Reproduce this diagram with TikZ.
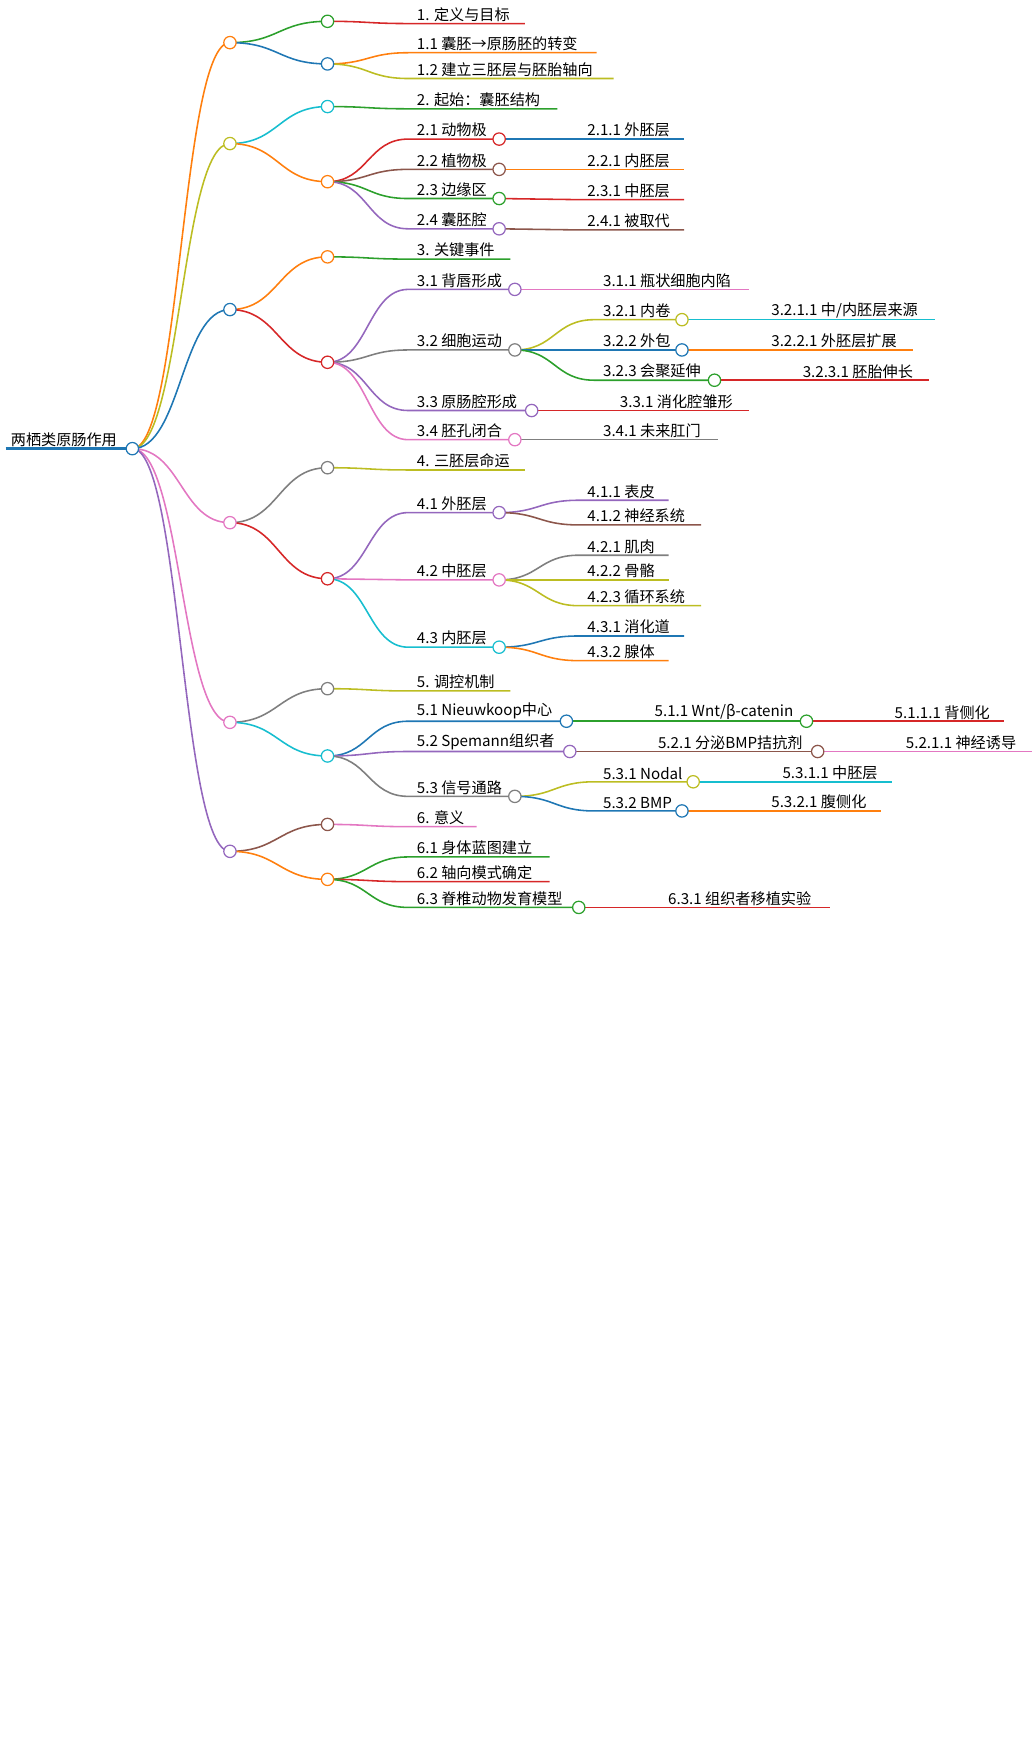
\documentclass[tikz,border=0pt]{standalone}
\usepackage{fontspec}
\setmainfont{Noto Sans CJK SC}
\definecolor{cO}{HTML}{FF7F0E}\definecolor{cY}{HTML}{BCBD22}\definecolor{cB}{HTML}{1F77B4}
\definecolor{cP}{HTML}{E377C2}\definecolor{cV}{HTML}{9467BD}\definecolor{cG}{HTML}{2CA02C}
\definecolor{cR}{HTML}{D62728}\definecolor{cN}{HTML}{8C564B}\definecolor{cA}{HTML}{7F7F7F}
\definecolor{cC}{HTML}{17BECF}
\tikzset{lbl/.style={anchor=south west,inner sep=1.5pt,font=\fontsize{13.5}{14}\selectfont},
 ln/.style={line width=1.4pt},
 dot/.style={circle,draw,fill=white,line width=1.1pt,minimum size=11pt,inner sep=0pt}}
\newcommand\brL[7]{\draw[ln,#1] (#2,#3) .. controls ({(#2+#4-8)/2},#3) and ({(#2+#4-8)/2},#5) .. ({#4-8},#5) -- (#6,#5);
 \node[lbl] at ({#4-2},#5) {#7};}
\newcommand\blk[5]{\draw[ln,#1] (#2,#3) .. controls ({(#2+#4)/2},#3) and ({(#2+#4)/2},#5) .. (#4,#5);}
\newcommand\cir[3]{\node[dot,draw=#1] at (#2,#3) {};}
\begin{document}
\begin{tikzpicture}[x=1pt,y=-1pt]
\useasboundingbox (0,0) rectangle (920,1562);
% root
\draw[cB,line width=3pt] (5,400) -- (118,400);
\node[lbl] at (8,400) {两栖类原肠作用};
% level 1
\blk{cO}{118}{400}{205}{38}\blk{cY}{118}{400}{205}{128}\blk{cB}{118}{400}{205}{276}
\blk{cP}{118}{400}{205}{466}\blk{cP}{118}{400}{205}{644}\blk{cV}{118}{400}{205}{759}
% level 2
\blk{cG}{205}{38}{292}{19}\blk{cB}{205}{38}{292}{57}
\blk{cC}{205}{128}{292}{95}\blk{cO}{205}{128}{292}{162}
\blk{cO}{205}{276}{292}{229}\blk{cR}{205}{276}{292}{323}
\blk{cA}{205}{466}{292}{417}\blk{cR}{205}{466}{292}{516}
\blk{cA}{205}{644}{292}{614}\blk{cC}{205}{644}{292}{674}
\blk{cN}{205}{759}{292}{735}\blk{cO}{205}{759}{292}{784}
% 1
\brL{cR}{292}{19}{372}{21}{468}{1. 定义与目标}
\brL{cO}{292}{57}{372}{47}{532}{1.1 囊胚→原肠胚的转变}
\brL{cY}{292}{57}{372}{70}{547}{1.2 建立三胚层与胚胎轴向}
% 2
\brL{cG}{292}{95}{372}{97}{497}{2. 起始：囊胚结构}
\brL{cR}{292}{162}{372}{124}{445}{2.1 动物极}
\brL{cN}{292}{162}{372}{151}{445}{2.2 植物极}
\brL{cG}{292}{162}{372}{177}{445}{2.3 边缘区}
\brL{cV}{292}{162}{372}{204}{445}{2.4 囊胚腔}
\brL{cB}{445}{124}{524}{124}{610}{2.1.1 外胚层}
\brL{cO}{445}{151}{524}{151}{610}{2.2.1 内胚层}
\brL{cR}{445}{177}{524}{178}{610}{2.3.1 中胚层}
\brL{cN}{445}{204}{524}{205}{610}{2.4.1 被取代}
% 3
\brL{cG}{292}{229}{372}{231}{455}{3. 关键事件}
\brL{cV}{292}{323}{372}{258}{459}{3.1 背唇形成}
\brL{cA}{292}{323}{372}{312}{459}{3.2 细胞运动}
\brL{cV}{292}{323}{372}{366}{474}{3.3 原肠腔形成}
\brL{cP}{292}{323}{372}{392}{459}{3.4 胚孔闭合}
\brL{cP}{459}{258}{538}{258}{668}{3.1.1 瓶状细胞内陷}
\brL{cY}{459}{312}{538}{285}{608}{3.2.1 内卷}
\brL{cB}{459}{312}{538}{312}{608}{3.2.2 外包}
\brL{cG}{459}{312}{538}{339}{637}{3.2.3 会聚延伸}
\brL{cC}{608}{285}{688}{285}{834}{3.2.1.1 中/内胚层来源}
\brL{cO}{608}{312}{688}{312}{814}{3.2.2.1 外胚层扩展}
\brL{cR}{637}{339}{716}{339}{828}{3.2.3.1 胚胎伸长}
\brL{cR}{474}{366}{553}{366}{668}{3.3.1 消化腔雏形}
\brL{cA}{459}{392}{538}{392}{640}{3.4.1 未来肛门}
% 4
\brL{cY}{292}{417}{372}{419}{468}{4. 三胚层命运}
\brL{cV}{292}{516}{372}{457}{445}{4.1 外胚层}
\brL{cP}{292}{516}{372}{517}{445}{4.2 中胚层}
\brL{cC}{292}{516}{372}{577}{445}{4.3 内胚层}
\brL{cV}{445}{457}{524}{446}{596}{4.1.1 表皮}
\brL{cN}{445}{457}{524}{468}{625}{4.1.2 神经系统}
\brL{cA}{445}{517}{524}{495}{596}{4.2.1 肌肉}
\brL{cY}{445}{517}{524}{517}{596}{4.2.2 骨骼}
\brL{cY}{445}{517}{524}{540}{625}{4.2.3 循环系统}
\brL{cB}{445}{577}{524}{567}{610}{4.3.1 消化道}
\brL{cO}{445}{577}{524}{589}{596}{4.3.2 腺体}
% 5
\brL{cY}{292}{614}{372}{616}{455}{5. 调控机制}
\brL{cB}{292}{674}{372}{643}{505}{5.1 Nieuwkoop中心}
\brL{cV}{292}{674}{372}{670}{508}{5.2 Spemann组织者}
\brL{cA}{292}{674}{372}{710}{459}{5.3 信号通路}
\brL{cG}{505}{643}{584}{643}{719}{5.1.1 Wnt/β-catenin}
\brL{cR}{719}{643}{798}{643}{895}{5.1.1.1 背侧化}
\brL{cN}{508}{670}{587}{670}{729}{5.2.1 分泌BMP拮抗剂}
\brL{cP}{729}{670}{808}{670}{920}{5.2.1.1 神经诱导}
\brL{cY}{459}{710}{538}{697}{618}{5.3.1 Nodal}
\brL{cB}{459}{710}{538}{723}{608}{5.3.2 BMP}
\brL{cC}{618}{697}{698}{697}{795}{5.3.1.1 中胚层}
\brL{cO}{608}{723}{688}{723}{785}{5.3.2.1 腹侧化}
% 6
\brL{cP}{292}{735}{372}{737}{425}{6. 意义}
\brL{cG}{292}{784}{372}{764}{490}{6.1 身体蓝图建立}
\brL{cR}{292}{784}{372}{786}{490}{6.2 轴向模式确定}
\brL{cG}{292}{784}{372}{809}{516}{6.3 脊椎动物发育模型}
\brL{cR}{516}{809}{596}{809}{740}{6.3.1 组织者移植实验}
% circles
\cir{cB}{118}{400}
\cir{cO}{205}{38}\cir{cY}{205}{128}\cir{cB}{205}{276}\cir{cP}{205}{466}\cir{cP}{205}{644}\cir{cV}{205}{759}
\cir{cG}{292}{19}\cir{cB}{292}{57}\cir{cC}{292}{95}\cir{cO}{292}{162}\cir{cO}{292}{229}\cir{cR}{292}{323}
\cir{cA}{292}{417}\cir{cR}{292}{516}\cir{cA}{292}{614}\cir{cC}{292}{674}\cir{cN}{292}{735}\cir{cO}{292}{784}
\cir{cR}{445}{124}\cir{cN}{445}{151}\cir{cG}{445}{177}\cir{cV}{445}{204}
\cir{cV}{459}{258}\cir{cA}{459}{312}\cir{cV}{474}{366}\cir{cP}{459}{392}
\cir{cY}{608}{285}\cir{cB}{608}{312}\cir{cG}{637}{339}
\cir{cV}{445}{457}\cir{cP}{445}{517}\cir{cC}{445}{577}
\cir{cB}{505}{643}\cir{cV}{508}{670}\cir{cA}{459}{710}
\cir{cG}{719}{643}\cir{cN}{729}{670}\cir{cY}{618}{697}\cir{cB}{608}{723}
\cir{cG}{516}{809}
\end{tikzpicture}
\end{document}
